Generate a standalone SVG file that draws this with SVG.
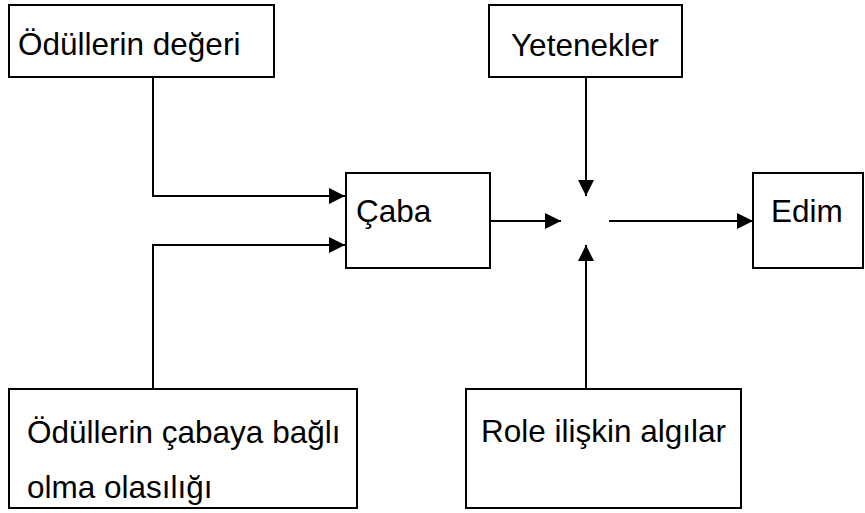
<svg xmlns="http://www.w3.org/2000/svg" width="865" height="513" viewBox="0 0 865 513">
<style>
.box{fill:#fff;stroke:#000;stroke-width:2}
.t{font-family:"Liberation Sans",Arial,sans-serif;font-size:31.5px;fill:#000}
.c{fill:none;stroke:#000;stroke-width:2}
</style>
<defs>
<marker id="ah" markerUnits="userSpaceOnUse" markerWidth="16" markerHeight="16" viewBox="0 0 16 16" refX="16" refY="8" orient="auto">
<path d="M0,0 L16,8 L0,16 Z" fill="#000"/>
</marker>
</defs>
<rect width="865" height="513" fill="#fff"/>
<g id="connectors">
<path class="c" d="M153,77 V196 H345" marker-end="url(#ah)"/>
<path class="c" d="M153,389 V245 H345" marker-end="url(#ah)"/>
<path class="c" d="M490,221 H561" marker-end="url(#ah)"/>
<path class="c" d="M586,77 V196" marker-end="url(#ah)"/>
<path class="c" d="M586,389 V245" marker-end="url(#ah)"/>
<path class="c" d="M609,221 H753" marker-end="url(#ah)"/>
</g>
<g id="odul-degeri">
<rect class="box" x="9" y="5" width="265" height="72"/>
<text class="t" x="18" y="55">Ödüllerin değeri</text>
</g>
<g id="yetenekler">
<rect class="box" x="489" y="5" width="193" height="72"/>
<text class="t" x="511" y="56">Yetenekler</text>
</g>
<g id="caba">
<rect class="box" x="346" y="173" width="144" height="95"/>
<text class="t" x="356" y="222">Çaba</text>
</g>
<g id="edim">
<rect class="box" x="753" y="173" width="110" height="95"/>
<text class="t" x="771" y="222">Edim</text>
</g>
<g id="odul-olasilik">
<rect class="box" x="9" y="389" width="348" height="119"/>
<text class="t" x="27" y="443">Ödüllerin çabaya bağlı</text>
<text class="t" x="27" y="498">olma olasılığı</text>
</g>
<g id="role">
<rect class="box" x="466" y="389" width="275" height="119"/>
<text class="t" x="481" y="442">Role ilişkin algılar</text>
</g>
</svg>
